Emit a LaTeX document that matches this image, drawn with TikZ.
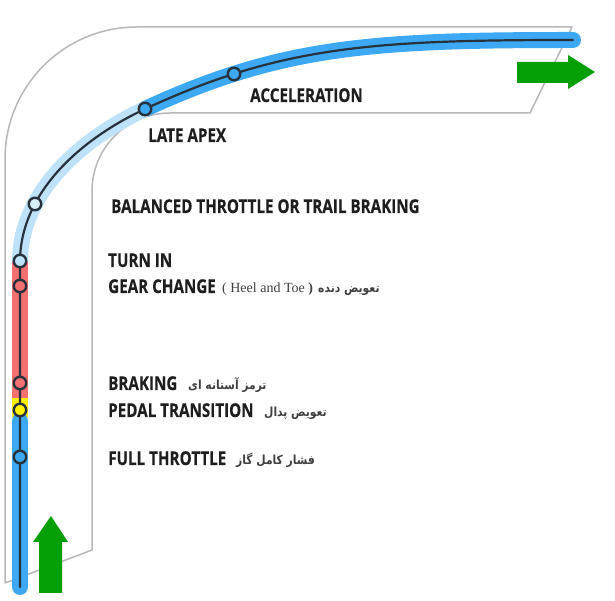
\documentclass[tikz,border=0pt]{standalone}
\usepackage{fontspec}
\usepackage{xcolor}
\usepackage{tikz}
\usetikzlibrary{positioning, calc}
\TeXXeTstate=1
\newfontfamily\labelfont[FakeStretch=0.8, FakeBold=0.3]{Open Sans}
\newfontfamily\farsifont[Script=Arabic, FakeStretch=0.86]{DejaVu Sans}
\newfontfamily\heelfont{Liberation Serif}
\definecolor{trackgray}{HTML}{B8B8B8}
\definecolor{bandblue}{HTML}{3DA9F4}
\definecolor{bandlight}{HTML}{BDE2FA}
\definecolor{bandred}{HTML}{F46F6F}
\definecolor{bandyellow}{HTML}{FFF200}
\definecolor{arrowgreen}{HTML}{06A006}
\definecolor{lineink}{HTML}{27323C}
\definecolor{labelink}{HTML}{1E1E1E}

\begin{document}
\begin{tikzpicture}[x=1pt, y=1pt,
  stopdot/.style={draw=lineink, circle, line width=2.4pt, inner sep=0pt, minimum size=12.5pt},
  steplabel/.style={anchor=base west, text=labelink, inner sep=0pt, font=\labelfont\bfseries\fontsize{19}{20}\selectfont},
  farsilabel/.style={anchor=base west, text=labelink!85, inner sep=0pt, font=\farsifont\bfseries\fontsize{12.5}{14}\selectfont},
  band/.style={line width=16pt}]
\useasboundingbox (0,0) rectangle (615,601);
\fill[white] (0,0) rectangle (615,601);

% Track outline
\draw[trackgray, line width=1.5pt, line join=round] (5,18) -- (5,442) arc[start angle=180, end angle=90, radius=132]
   -- (572,574) -- (530,488) -- (170,488) arc[start angle=90, end angle=180, radius=78] -- (92,51) -- cycle;

% Points where the line bends
\coordinate (start) at (20,14);
\coordinate (bend) at (20,339);
\coordinate (apexpt) at (145,492);
\coordinate (finish) at (573,561);

% Racing line bands
\draw[band, bandblue, line cap=round] (apexpt) .. controls (281,555) and (373,561) .. (finish);
\draw[band, bandlight] (bend) .. controls (20,409) and (81.6,462.4) .. (apexpt);
\draw[band, bandred] (20,203) -- (bend);
\draw[band, bandyellow] (20,184) -- (20,203);
\draw[band, bandblue, line cap=round] (start) -- (20,180);

% Racing line
\draw[lineink, line width=2.2pt, line cap=round] (start) -- (bend) .. controls (20,409) and (81.6,462.4) .. (apexpt)
   .. controls (281,555) and (373,561) .. (finish);

% Stops on the line
\node[stopdot, fill=bandblue] (full) at (20,144) {};
\node[stopdot, fill=bandyellow] (pedal) at (20,191) {};
\node[stopdot, fill=bandred] (brake) at (20,218) {};
\node[stopdot, fill=bandred] (gear) at (20,315) {};
\node[stopdot, fill=bandlight] (turnin) at (20,340) {};
\node[stopdot, fill=bandlight!60] (balanced) at (35,397) {};
\node[stopdot, fill=bandblue] (apex) at (apexpt) {};
\node[stopdot, fill=bandblue] (accel) at (234,527) {};

% Labels
\node[steplabel] (accellbl) at (250,499) {ACCELERATION};
\node[steplabel] (apexlbl) at (148,459) {LATE APEX};
\node[steplabel] (ballbl) at (111,388) {BALANCED THROTTLE OR TRAIL BRAKING};
\node[steplabel] (turnlbl) at (108,334) {TURN IN};
\node[steplabel] (gearlbl) at (108,308) {GEAR CHANGE};
\node[steplabel] (brakelbl) at (108,211) {BRAKING};
\node[steplabel] (pedallbl) at (108,184) {PEDAL TRANSITION};
\node[steplabel] (fulllbl) at (108,136) {FULL THROTTLE};

\node[anchor=base west, inner sep=0pt, text=labelink!85, font=\heelfont\fontsize{14}{16}\selectfont] (heel) at (222,308) {( Heel and Toe {\bfseries )}};
\node[farsilabel] (gearfa) at (318,308) {\beginR تعویض دنده\endR};
\node[farsilabel] (brakefa) at (188,211) {\beginR ترمز آستانه ای\endR};
\node[farsilabel] (pedalfa) at (264,184) {\beginR تعویض پدال\endR};
\node[farsilabel] (fullfa) at (236,136) {\beginR فشار کامل گاز\endR};

% Direction arrows
\fill[arrowgreen] (39,8) -- (39,59) -- (33,59) -- (51,85) -- (68,59) -- (62,59) -- (62,8) -- cycle;
\fill[arrowgreen] (517,518) -- (568,518) -- (568,512) -- (595,529) -- (568,546) -- (568,539) -- (517,539) -- cycle;
\end{tikzpicture}
\end{document}
